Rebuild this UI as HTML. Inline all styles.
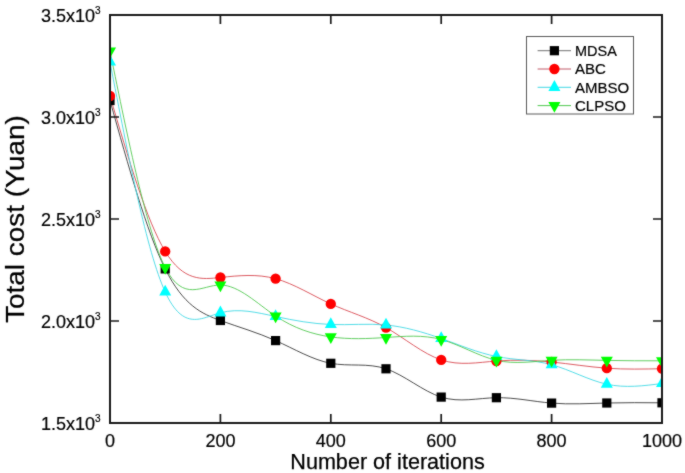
<!DOCTYPE html><html><head><meta charset="utf-8"><style>
html,body{margin:0;padding:0;background:#fff;}body{width:685px;height:473px;overflow:hidden;position:relative;}
svg{position:absolute;left:0;top:0;}text{font-family:"Liberation Sans",Arial,sans-serif;fill:#000;stroke:#000;stroke-width:0.2px;}
</style></head><body>
<svg width="685" height="473" viewBox="0 0 685 473">
<defs><filter id="bl" x="0" y="0" width="685" height="473" filterUnits="userSpaceOnUse" color-interpolation-filters="sRGB"><feConvolveMatrix order="3" kernelMatrix="1 2 1 2 20 2 1 2 1" edgeMode="duplicate"/></filter><clipPath id="pc"><rect x="110" y="15" width="552" height="408"/></clipPath></defs>
<g filter="url(#bl)"><rect width="685" height="473" fill="#fff"/>
<g clip-path="url(#pc)">
<path d="M110.00,100.50 C128.40,166.25 146.80,232.00 165.20,268.90 C183.60,305.80 202.00,313.84 220.40,320.50 C238.80,327.16 257.20,332.43 275.60,340.60 C294.00,348.77 312.40,359.83 330.80,363.30 C349.20,366.77 367.60,362.66 386.00,368.80 C404.40,374.94 422.80,391.33 441.20,397.10 C459.60,402.87 478.00,398.03 496.40,397.70 C514.80,397.37 533.20,401.57 551.60,403.10 C570.00,404.63 588.40,403.49 606.80,403.00 C625.20,402.51 643.60,402.65 662.00,402.80" fill="none" stroke="#383838" stroke-width="0.9"/>
<path d="M110.00,96.00 C128.40,158.59 146.80,221.18 165.20,251.40 C183.60,281.62 202.00,279.48 220.40,277.50 C238.80,275.52 257.20,273.70 275.60,278.70 C294.00,283.70 312.40,295.52 330.80,303.90 C349.20,312.28 367.60,317.23 386.00,327.60 C404.40,337.97 422.80,353.78 441.20,359.90 C459.60,366.02 478.00,362.46 496.40,361.00 C514.80,359.54 533.20,360.16 551.60,362.00 C570.00,363.84 588.40,366.88 606.80,368.20 C625.20,369.52 643.60,369.11 662.00,368.70" fill="none" stroke="#d84850" stroke-width="0.9"/>
<path d="M110.00,62.00 C128.40,156.90 146.80,251.79 165.20,292.00 C183.60,332.21 202.00,317.72 220.40,312.80 C238.80,307.88 257.20,312.52 275.60,316.50 C294.00,320.48 312.40,323.79 330.80,324.50 C349.20,325.21 367.60,323.31 386.00,325.00 C404.40,326.69 422.80,331.96 441.20,338.50 C459.60,345.04 478.00,352.83 496.40,356.50 C514.80,360.17 533.20,359.70 551.60,364.70 C570.00,369.70 588.40,380.16 606.80,384.20 C625.20,388.24 643.60,385.87 662.00,383.50" fill="none" stroke="#40d8e4" stroke-width="0.9"/>
<path d="M110.00,51.00 C128.40,141.30 146.80,231.59 165.20,267.50 C183.60,303.41 202.00,284.93 220.40,285.00 C238.80,285.07 257.20,303.70 275.60,316.00 C294.00,328.30 312.40,334.29 330.80,336.90 C349.20,339.51 367.60,338.74 386.00,337.50 C404.40,336.26 422.80,334.55 441.20,339.50 C459.60,344.45 478.00,356.05 496.40,360.30 C514.80,364.55 533.20,361.44 551.60,360.30 C570.00,359.16 588.40,359.99 606.80,360.40 C625.20,360.81 643.60,360.81 662.00,360.80" fill="none" stroke="#50c850" stroke-width="0.9"/>
<rect x="105.40" y="95.90" width="9.2" height="9.2" fill="#000"/>
<rect x="160.60" y="264.30" width="9.2" height="9.2" fill="#000"/>
<rect x="215.80" y="315.90" width="9.2" height="9.2" fill="#000"/>
<rect x="271.00" y="336.00" width="9.2" height="9.2" fill="#000"/>
<rect x="326.20" y="358.70" width="9.2" height="9.2" fill="#000"/>
<rect x="381.40" y="364.20" width="9.2" height="9.2" fill="#000"/>
<rect x="436.60" y="392.50" width="9.2" height="9.2" fill="#000"/>
<rect x="491.80" y="393.10" width="9.2" height="9.2" fill="#000"/>
<rect x="547.00" y="398.50" width="9.2" height="9.2" fill="#000"/>
<rect x="602.20" y="398.40" width="9.2" height="9.2" fill="#000"/>
<rect x="657.40" y="398.20" width="9.2" height="9.2" fill="#000"/>
<circle cx="110.00" cy="96.00" r="5.15" fill="#ff0000"/>
<circle cx="165.20" cy="251.40" r="5.15" fill="#ff0000"/>
<circle cx="220.40" cy="277.50" r="5.15" fill="#ff0000"/>
<circle cx="275.60" cy="278.70" r="5.15" fill="#ff0000"/>
<circle cx="330.80" cy="303.90" r="5.15" fill="#ff0000"/>
<circle cx="386.00" cy="327.60" r="5.15" fill="#ff0000"/>
<circle cx="441.20" cy="359.90" r="5.15" fill="#ff0000"/>
<circle cx="496.40" cy="361.00" r="5.15" fill="#ff0000"/>
<circle cx="551.60" cy="362.00" r="5.15" fill="#ff0000"/>
<circle cx="606.80" cy="368.20" r="5.15" fill="#ff0000"/>
<circle cx="662.00" cy="368.70" r="5.15" fill="#ff0000"/>
<polygon points="110.00,54.80 116.00,65.60 104.00,65.60" fill="#00ffff"/>
<polygon points="165.20,284.80 171.20,295.60 159.20,295.60" fill="#00ffff"/>
<polygon points="220.40,305.60 226.40,316.40 214.40,316.40" fill="#00ffff"/>
<polygon points="275.60,309.30 281.60,320.10 269.60,320.10" fill="#00ffff"/>
<polygon points="330.80,317.30 336.80,328.10 324.80,328.10" fill="#00ffff"/>
<polygon points="386.00,317.80 392.00,328.60 380.00,328.60" fill="#00ffff"/>
<polygon points="441.20,331.30 447.20,342.10 435.20,342.10" fill="#00ffff"/>
<polygon points="496.40,349.30 502.40,360.10 490.40,360.10" fill="#00ffff"/>
<polygon points="551.60,357.50 557.60,368.30 545.60,368.30" fill="#00ffff"/>
<polygon points="606.80,377.00 612.80,387.80 600.80,387.80" fill="#00ffff"/>
<polygon points="662.00,376.30 668.00,387.10 656.00,387.10" fill="#00ffff"/>
<polygon points="110.00,58.20 116.00,47.40 104.00,47.40" fill="#00ff00"/>
<polygon points="165.20,274.70 171.20,263.90 159.20,263.90" fill="#00ff00"/>
<polygon points="220.40,292.20 226.40,281.40 214.40,281.40" fill="#00ff00"/>
<polygon points="275.60,323.20 281.60,312.40 269.60,312.40" fill="#00ff00"/>
<polygon points="330.80,344.10 336.80,333.30 324.80,333.30" fill="#00ff00"/>
<polygon points="386.00,344.70 392.00,333.90 380.00,333.90" fill="#00ff00"/>
<polygon points="441.20,346.70 447.20,335.90 435.20,335.90" fill="#00ff00"/>
<polygon points="496.40,367.50 502.40,356.70 490.40,356.70" fill="#00ff00"/>
<polygon points="551.60,367.50 557.60,356.70 545.60,356.70" fill="#00ff00"/>
<polygon points="606.80,367.60 612.80,356.80 600.80,356.80" fill="#00ff00"/>
<polygon points="662.00,368.00 668.00,357.20 656.00,357.20" fill="#00ff00"/>
</g>
<rect x="110" y="15" width="552" height="408" fill="none" stroke="#1a1a1a" stroke-width="2"/>
<path d="M220.40,423V414 M220.40,15V24 M330.80,423V414 M330.80,15V24 M441.20,423V414 M441.20,15V24 M551.60,423V414 M551.60,15V24 M110,321.00H119 M662,321.00H653 M110,219.00H119 M662,219.00H653 M110,117.00H119 M662,117.00H653" stroke="#1a1a1a" stroke-width="1.7" fill="none"/>
<text x="100.5" y="430.00" text-anchor="end" font-size="18">1.5x10<tspan dy="-8.2" font-size="10">3</tspan></text>
<text x="100.5" y="328.00" text-anchor="end" font-size="18">2.0x10<tspan dy="-8.2" font-size="10">3</tspan></text>
<text x="100.5" y="226.00" text-anchor="end" font-size="18">2.5x10<tspan dy="-8.2" font-size="10">3</tspan></text>
<text x="100.5" y="124.00" text-anchor="end" font-size="18">3.0x10<tspan dy="-8.2" font-size="10">3</tspan></text>
<text x="100.5" y="22.00" text-anchor="end" font-size="18">3.5x10<tspan dy="-8.2" font-size="10">3</tspan></text>
<text x="110.00" y="447" text-anchor="middle" font-size="18">0</text>
<text x="220.40" y="447" text-anchor="middle" font-size="18">200</text>
<text x="330.80" y="447" text-anchor="middle" font-size="18">400</text>
<text x="441.20" y="447" text-anchor="middle" font-size="18">600</text>
<text x="551.60" y="447" text-anchor="middle" font-size="18">800</text>
<text x="662.00" y="447" text-anchor="middle" font-size="18">1000</text>
<text x="387.5" y="468.9" text-anchor="middle" font-size="21.6" style="stroke-width:0.25px">Number of iterations</text>
<text transform="translate(24.0,219) rotate(-90) scale(1.073,1)" text-anchor="middle" font-size="26" style="stroke-width:0.25px">Total cost (Yuan)</text>
<rect x="526.5" y="36.5" width="107" height="77.5" fill="#fff" stroke="#5a5a5a" stroke-width="1"/>
<path d="M537.6,50.70H571" stroke="#707070" stroke-width="1.0"/>
<rect x="549.80" y="46.10" width="9.2" height="9.2" fill="#000"/>
<text x="575" y="56.10" font-size="15" textLength="41.8" lengthAdjust="spacingAndGlyphs">MDSA</text>
<path d="M537.6,69.00H571" stroke="#c05a68" stroke-width="1.0"/>
<circle cx="554.40" cy="69.00" r="5.15" fill="#ff0000"/>
<text x="575" y="74.40" font-size="15">ABC</text>
<path d="M537.6,87.30H571" stroke="#40d8e4" stroke-width="1.0"/>
<polygon points="554.40,80.10 560.40,90.90 548.40,90.90" fill="#00ffff"/>
<text x="575" y="92.70" font-size="15">AMBSO</text>
<path d="M537.6,105.60H571" stroke="#50c850" stroke-width="1.0"/>
<polygon points="554.40,112.80 560.40,102.00 548.40,102.00" fill="#00ff00"/>
<text x="575" y="111.00" font-size="15">CLPSO</text>
</g></svg></body></html>
